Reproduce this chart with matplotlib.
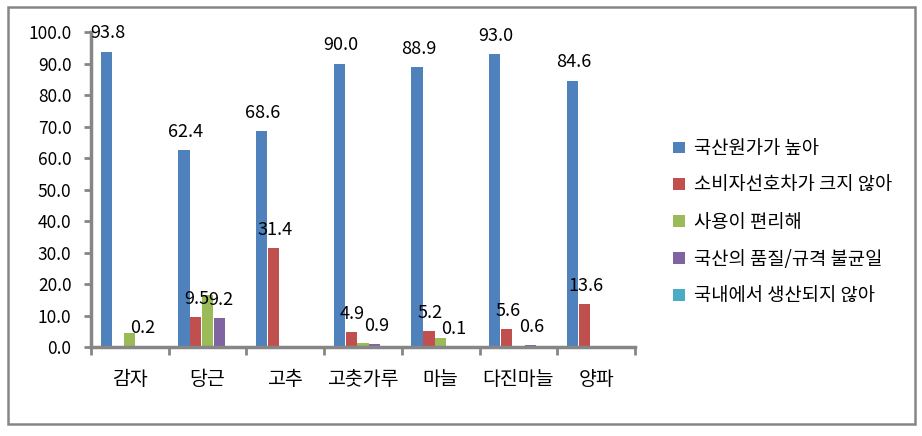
import matplotlib.pyplot as plt
import numpy as np
from matplotlib.patches import Rectangle

plt.rcParams['font.family'] = ['Noto Sans CJK KR', 'DejaVu Sans']

categories = ['감자', '당근', '고추', '고춧가루', '마늘', '다진마늘', '양파']
series_names = ['국산원가가 높아', '소비자선호차가 크지 않아', '사용이 편리해',
                '국산의 품질/규격 불균일', '국내에서 생산되지 않아']

# bar heights
high_cost = [93.8, 62.4, 68.6, 90.0, 88.9, 93.0, 84.6]
pref_gap = [0.0, 9.5, 31.4, 4.9, 5.2, 5.6, 13.6]
easy_use = [4.3, 16.5, 0.0, 1.3, 2.9, 0.0, 0.0]
uneven_quality = [0.2, 9.2, 0.0, 0.9, 0.1, 0.6, 0.0]
not_domestic = [0.0, 0.0, 0.0, 0.0, 0.0, 0.0, 0.0]

# data labels as shown in the reference (None = no label)
high_cost_lbl = ['93.8', '62.4', '68.6', '90.0', '88.9', '93.0', '84.6']
pref_gap_lbl = [None, '9.5', '31.4', '4.9', '5.2', '5.6', '13.6']
easy_use_lbl = [None] * 7
uneven_quality_lbl = ['0.2', '9.2', None, '0.9', '0.1', '0.6', None]
not_domestic_lbl = [None] * 7

colors = ['#4F81BD', '#C0504D', '#9BBB59', '#8064A2', '#4BACC6']

values = [high_cost, pref_gap, easy_use, uneven_quality, not_domestic]
labels = [high_cost_lbl, pref_gap_lbl, easy_use_lbl, uneven_quality_lbl, not_domestic_lbl]

fig = plt.figure(figsize=(9.22, 4.36), dpi=100)
fig.patches.append(Rectangle((8 / 922, 12 / 436), 907 / 922, 417 / 436,
                             transform=fig.transFigure, fill=False,
                             edgecolor='#868686', linewidth=1.8))
ax = fig.add_axes([0.0987, 0.2041, 0.59, 0.7225])

x = np.arange(len(categories))
w = 0.152
for i, (vals, lbls) in enumerate(zip(values, labels)):
    pos = x + (i - 2) * w
    ax.bar(pos, vals, width=w * 0.95, color=colors[i], label=series_names[i])
    for p, v, t in zip(pos, vals, lbls):
        if t is not None:
            ax.annotate(t, (p, v), xytext=(1, 13), textcoords='offset points',
                        ha='center', va='center', fontsize=13)

ax.set_xlim(-0.5, len(categories) - 0.5)
ax.set_ylim(0, 100)
ax.set_yticks(np.arange(0, 101, 10))
ax.set_yticklabels(['%.1f' % v for v in np.arange(0, 101, 10)], fontsize=12.5)
ax.set_xticks(np.arange(-0.5, len(categories), 1))
ax.set_xticklabels([])
ax.set_xticks(x, minor=True)
ax.set_xticklabels(categories, minor=True, fontsize=14)
ax.tick_params(axis='x', which='minor', length=0, pad=16)
ax.tick_params(axis='x', which='major', length=6, width=2, color='#868686', direction='out')
ax.tick_params(axis='y', length=5, width=2, color='#868686', direction='out', pad=9)

for s in ['top', 'right']:
    ax.spines[s].set_visible(False)
for s in ['left', 'bottom']:
    ax.spines[s].set_color('#868686')
    ax.spines[s].set_linewidth(2.5)

leg = fig.legend(loc='upper left', bbox_to_anchor=(0.712, 0.722), frameon=False,
                 fontsize=13.5, handlelength=0.6, handleheight=0.6, handletextpad=0.5,
                 labelspacing=0.85)

fig.savefig('out.png', dpi=100)
